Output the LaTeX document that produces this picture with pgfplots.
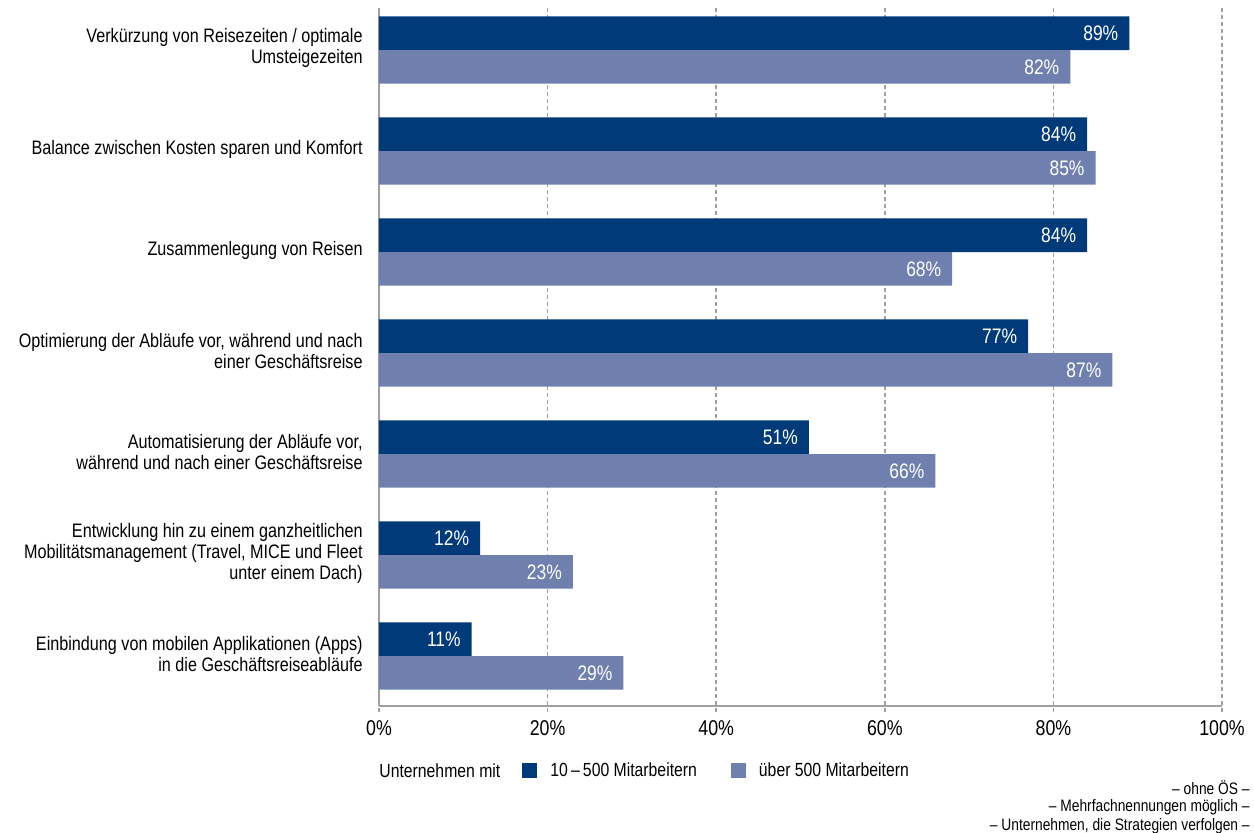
\documentclass[border=0pt]{standalone}
\usepackage{pgfplots}
\pgfplotsset{compat=1.18}
\usepackage{fontspec}
\setmainfont[FakeStretch=0.83]{Liberation Sans}
\definecolor{dark}{HTML}{003A78}
\definecolor{light}{HTML}{6F80AE}
\definecolor{gridgray}{HTML}{A0A0A0}
\begin{document}
\begin{tikzpicture}
\useasboundingbox (0,0) rectangle (627pt,-416.5pt);
\begin{axis}[
  at={(189.5pt,-353pt)}, anchor=south west,
  scale only axis, width=421.5pt, height=349pt,
  xbar, y dir=reverse,
  xmin=0, xmax=100, ymin=-0.416, ymax=6.495,
  axis x line*=bottom, axis y line*=left,
  axis line style={gridgray, line width=0.8pt, -},
  xtick={0,20,...,100},
  xticklabel={\pgfmathprintnumber{\tick}\%},
  /pgf/number format/assume math mode=true,
  xticklabel style={font=\fontsize{10.7}{12}\selectfont, inner sep=0pt, yshift=-4pt},
  ytick={0,...,6},
  yticklabels={
    {Verkürzung von Reisezeiten / optimale\\Umsteigezeiten},
    {Balance zwischen Kosten sparen und Komfort},
    {Zusammenlegung von Reisen},
    {Optimierung der Abläufe vor, während und nach\\einer Geschäftsreise},
    {Automatisierung der Abläufe vor,\\während und nach einer Geschäftsreise},
    {Entwicklung hin zu einem ganzheitlichen\\Mobilitätsmanagement (Travel, MICE und Fleet\\unter einem Dach)},
    {Einbindung von mobilen Applikationen (Apps)\\in die Geschäftsreiseabläufe}},
  yticklabel style={align=right, font=\fontsize{9.75}{10.5}\selectfont, inner sep=0pt, xshift=-5pt, yshift=1pt},
  tick align=outside,
  major tick length=3pt,
  major y tick style={draw=none},
  major x tick style={gridgray, line width=0.75pt, dash pattern=on 2pt off 1.5pt},
  xmajorgrids,
  major grid style={gridgray, line width=0.75pt, dash pattern=on 2pt off 1.5pt},
  bar width=0.332,
  nodes near coords={\pgfmathprintnumber{\pgfplotspointmeta}\%},
  every node near coord/.append style={anchor=east, text=white, font=\fontsize{10.5}{12}\selectfont, xshift=-2pt},
  legend style={at={(axis description cs:0.1696,-0.0931)}, anchor=west, draw=none, inner sep=0pt,
    legend columns=-1, font=\fontsize{9.5}{11}\selectfont,
    /tikz/every even column/.append style={column sep=15pt}},
  legend image code/.code={\fill[#1] (0pt,-3.75pt) rectangle (7.5pt,3.75pt); \path (12pt,0pt);},
]
\addplot[fill=dark, draw=none, bar shift=-0.166] coordinates {
  (89,0) (84,1) (84,2) (77,3) (51,4) (12,5) (11,6)};
\addplot[fill=light, draw=none, bar shift=0.166] coordinates {
  (82,0) (85,1) (68,2) (87,3) (66,4) (23,5) (29,6)};
\legend{10\,–\,500 Mitarbeitern, über 500 Mitarbeitern}
\end{axis}
\node[anchor=west, inner sep=0pt, font=\fontsize{9.5}{11}\selectfont] at (189.5pt,-385.5pt) {Unternehmen mit};
\node[anchor=east, inner sep=0pt, font=\fontsize{8.3}{9}\selectfont] at (625pt,-394pt) {– ohne ÖS –};
\node[anchor=east, inner sep=0pt, font=\fontsize{8.3}{9}\selectfont] at (625pt,-403.5pt) {– Mehrfachnennungen möglich –};
\node[anchor=east, inner sep=0pt, font=\fontsize{8.3}{9}\selectfont] at (625pt,-413pt) {– Unternehmen, die Strategien verfolgen –};
\end{tikzpicture}
\end{document}
